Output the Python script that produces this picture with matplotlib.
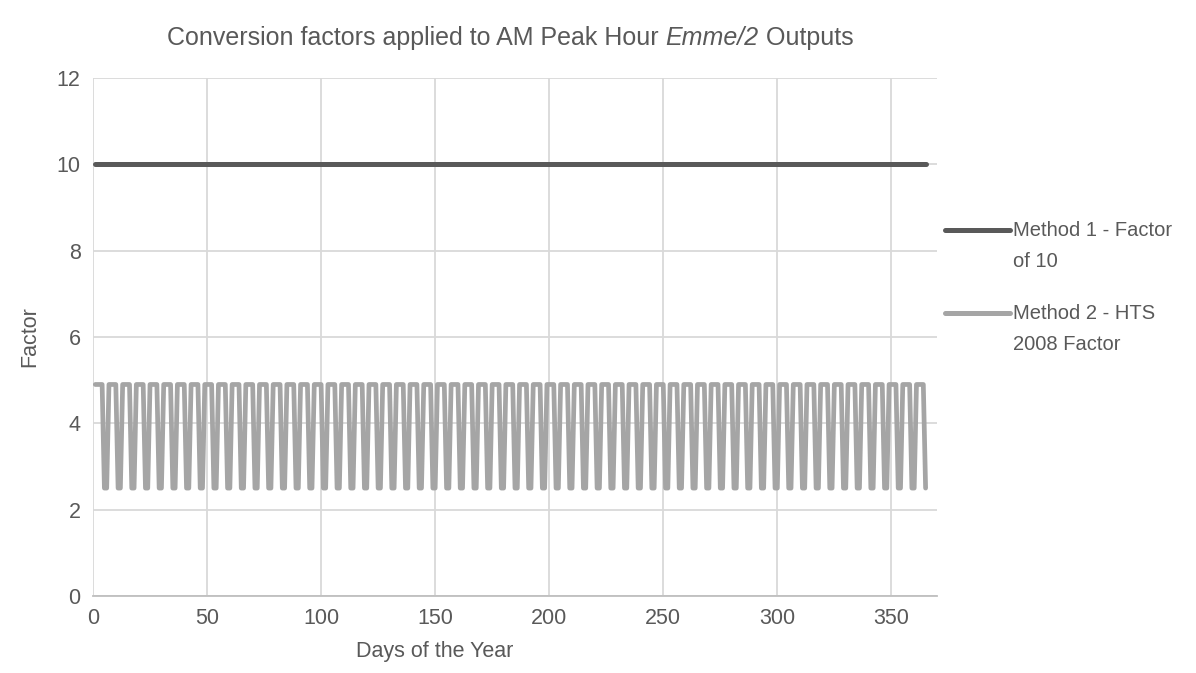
import matplotlib
matplotlib.use('Agg')
import matplotlib.pyplot as plt
import numpy as np
from matplotlib.lines import Line2D

plt.rcParams['font.family'] = ['Liberation Sans', 'DejaVu Sans']

# Data: day of year and the two conversion factors
days = np.arange(1, 366)
method1 = [10.0] * len(days)
# HTS 2008: repeating 6-day cycle, 4 days high then 2 days low
cycle_values = [4.9, 4.9, 4.9, 4.9, 2.5, 2.5]
method2 = [cycle_values[(d - 1) % 6] for d in days]

labels = ['Method 1 - Factor\nof 10', 'Method 2 - HTS\n2008 Factor']
x_ticks = [0, 50, 100, 150, 200, 250, 300, 350]
y_ticks = [0, 2, 4, 6, 8, 10, 12]
title_parts = ['Conversion factors applied to AM Peak Hour ', 'Emme/2', ' Outputs']

dark = '#595959'
light = '#A5A5A5'
text_col = '#595959'
grid_col = '#D9D9D9'

fig = plt.figure(figsize=(11.96, 6.73), dpi=100)
ax = fig.add_axes([93/1196, 1 - 596/673, (937 - 93)/1196, (596 - 78)/673])

ax.plot(days, method1, color=dark, lw=3.6, solid_capstyle='round', solid_joinstyle='round', zorder=3)
ax.plot(days, method2, color=light, lw=3.4, solid_capstyle='round', solid_joinstyle='round', zorder=3)

ax.set_xlim(0, 370)
ax.set_ylim(0, 12)
ax.set_xticks(x_ticks)
ax.set_yticks(y_ticks)
ax.grid(True, color=grid_col, lw=1.3)
ax.set_axisbelow(True)
for s in ['top', 'right', 'left']:
    ax.spines[s].set_visible(False)
ax.spines['bottom'].set_color('#BFBFBF')
ax.spines['bottom'].set_linewidth(1.3)
ax.tick_params(length=0, labelsize=15.5, labelcolor=text_col, pad=9)

fig.text(435/1196, 1 - 652/673, 'Days of the Year', ha='center', va='center',
         fontsize=15.5, color=text_col)
ax.set_ylabel('Factor', fontsize=15.5, color=text_col, labelpad=12)

# title in three pieces so "Emme/2" can be italic
fig.canvas.draw()
r = fig.canvas.get_renderer()
styles = ['normal', 'italic', 'normal']
pieces = [fig.text(0, 1 - 38/673, t, fontsize=18, style=st, color=text_col, va='center')
          for t, st in zip(title_parts, styles)]
widths = [p.get_window_extent(r).width for p in pieces]
x0 = 510 - sum(widths) / 2
for p, w in zip(pieces, widths):
    p.set_x(x0 / 1196)
    x0 += w

# legend drawn by hand so the handle sits on the first text line
for i, (lab, col) in enumerate(zip(labels, [dark, light])):
    y = 1 - (230 + 83 * i) / 673
    fig.add_artist(Line2D([945/1196, 1010/1196], [y, y], color=col, lw=3.6,
                          solid_capstyle='round', transform=fig.transFigure))
    fig.text(1013/1196, y + 9/673, lab, ha='left', va='top', fontsize=14.5,
             color=text_col, linespacing=1.8)

fig.savefig('out.png', dpi=100)
